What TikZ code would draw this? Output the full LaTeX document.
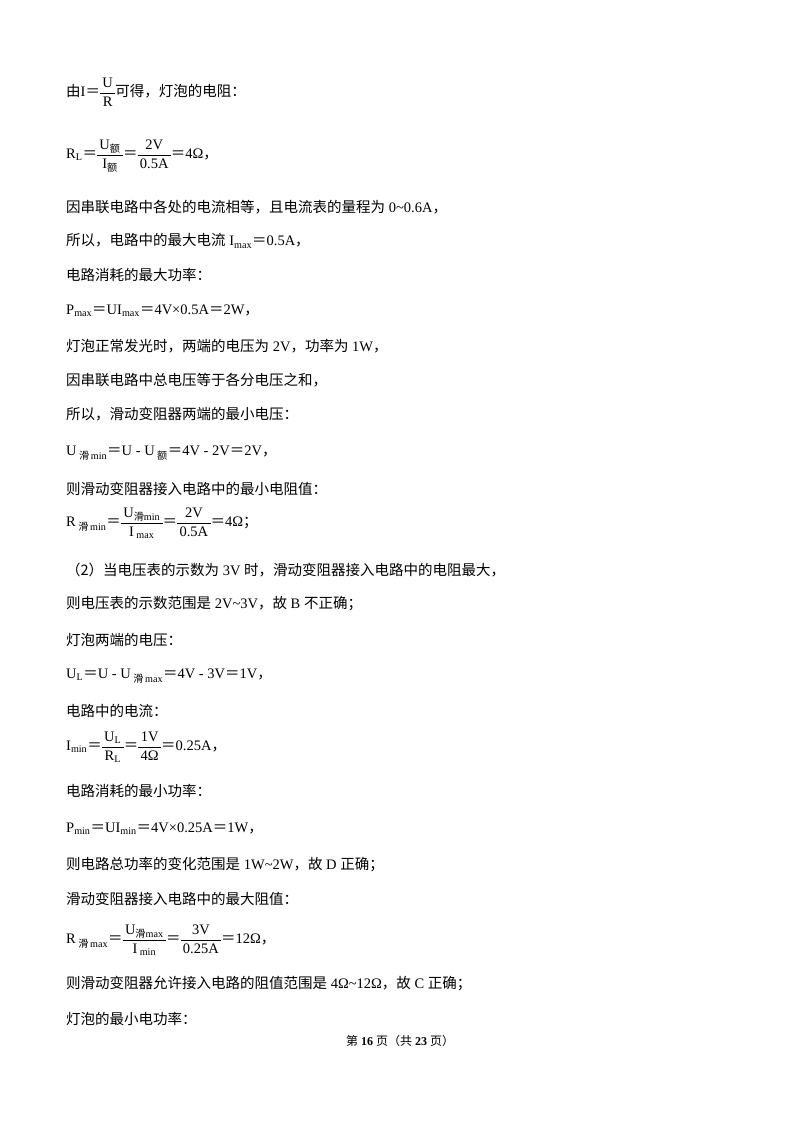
\documentclass[tikz,border=0pt]{standalone}
\usepackage{fontspec}
\setmainfont{Liberation Serif}
\newfontfamily\cjk{Noto Sans CJK SC}
\newcommand{\zh}[1]{{\cjk #1}}
\newcommand{\eq}{{\cjk ＝}}
\newcommand{\sbs}[1]{\textsubscript{#1}}
\newcommand{\frc}[2]{$\vcenter{\hbox{\renewcommand{\arraystretch}{1.15}\begin{tabular}{@{\,}c@{\,}}#1\\\hline #2\end{tabular}}}$}
\begin{document}
\begin{tikzpicture}[x=1pt,y=-1pt,line/.style={anchor=west,inner sep=0pt,font=\fontsize{14.5}{16}\selectfont}]
\useasboundingbox[fill=white] (0,0) rectangle (800,1131);
\node[line] (l1) at (66,93) {\zh{由}I\eq\frc{U}{R}\zh{可得，灯泡的电阻：}};
\node[line] (l2) at (66,155) {R\sbs{L}\eq\frc{U\sbs{\zh{额}}}{I\sbs{\zh{额}}}\eq\frc{2V}{0.5A}\eq 4Ω\zh{，}};
\node[line] (l3) at (66,207) {\zh{因串联电路中各处的电流相等，且电流表的量程为} 0\textasciitilde 0.6A\zh{，}};
\node[line] (l4) at (66,241) {\zh{所以，电路中的最大电流} I\sbs{max}\eq 0.5A\zh{，}};
\node[line] (l5) at (66,275) {\zh{电路消耗的最大功率：}};
\node[line] (l6) at (66,311) {P\sbs{max}\eq UI\sbs{max}\eq 4V×0.5A\eq 2W\zh{，}};
\node[line] (l7) at (66,346) {\zh{灯泡正常发光时，两端的电压为} 2V\zh{，功率为} 1W\zh{，}};
\node[line] (l8) at (66,380) {\zh{因串联电路中总电压等于各分电压之和，}};
\node[line] (l9) at (66,414) {\zh{所以，滑动变阻器两端的最小电压：}};
\node[line] (l10) at (66,453) {U\,\sbs{\zh{滑}\,min}\eq U - U\,\sbs{\zh{额}}\eq 4V - 2V\eq 2V\zh{，}};
\node[line] (l11) at (66,489) {\zh{则滑动变阻器接入电路中的最小电阻值：}};
\node[line] (l12) at (66,523) {R\,\sbs{\zh{滑}\,min}\eq\frc{U\sbs{\zh{滑}min}}{I\,\sbs{max}}\eq\frc{2V}{0.5A}\eq 4Ω\zh{；}};
\node[line] (l13) at (66,570) {\zh{（2）当电压表的示数为} 3V \zh{时，滑动变阻器接入电路中的电阻最大，}};
\node[line] (l14) at (66,604) {\zh{则电压表的示数范围是} 2V\textasciitilde 3V\zh{，故} B \zh{不正确；}};
\node[line] (l15) at (66,640) {\zh{灯泡两端的电压：}};
\node[line] (l16) at (66,676) {U\sbs{L}\eq U - U\,\sbs{\zh{滑}\,max}\eq 4V - 3V\eq 1V\zh{，}};
\node[line] (l17) at (66,711) {\zh{电路中的电流：}};
\node[line] (l18) at (66,747) {I\sbs{min}\eq\frc{U\sbs{L}}{R\sbs{L}}\eq\frc{1V}{4Ω}\eq 0.25A\zh{，}};
\node[line] (l19) at (66,791) {\zh{电路消耗的最小功率：}};
\node[line] (l20) at (66,829) {P\sbs{min}\eq UI\sbs{min}\eq 4V×0.25A\eq 1W\zh{，}};
\node[line] (l21) at (66,865) {\zh{则电路总功率的变化范围是} 1W\textasciitilde 2W\zh{，故} D \zh{正确；}};
\node[line] (l22) at (66,899) {\zh{滑动变阻器接入电路中的最大阻值：}};
\node[line] (l23) at (66,940) {R\,\sbs{\zh{滑}\,max}\eq\frc{U\sbs{\zh{滑}max}}{I\,\sbs{min}}\eq\frc{3V}{0.25A}\eq 12Ω\zh{，}};
\node[line] (l24) at (66,983) {\zh{则滑动变阻器允许接入电路的阻值范围是} 4Ω\textasciitilde 12Ω\zh{，故} C \zh{正确；}};
\node[line] (l25) at (66,1019) {\zh{灯泡的最小电功率：}};
\node[inner sep=0pt,font=\fontsize{12}{14}\selectfont] (ft) at (400,1041) {\zh{第} \textbf{16} \zh{页（共} \textbf{23} \zh{页）}};
\end{tikzpicture}
\end{document}
